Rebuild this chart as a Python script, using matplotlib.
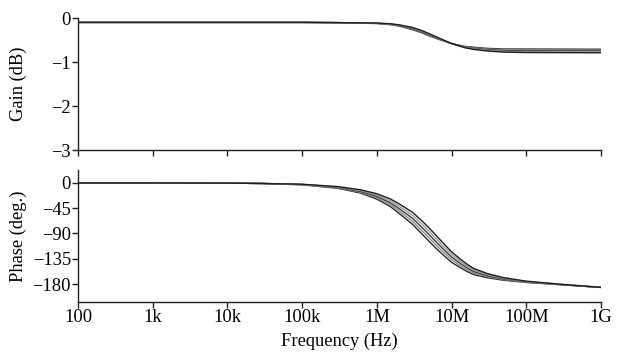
import matplotlib
matplotlib.use('Agg')
import matplotlib.pyplot as plt

plt.rcParams['font.family'] = ['Liberation Serif', 'DejaVu Serif']
plt.rcParams['font.size'] = 13.3

# gain curves (dB)
freq_gain = [1e2, 1e4, 1e5, 3e5, 1e6, 1.5e6, 2e6, 3e6, 4e6, 5e6, 7e6, 1e7,
             1.5e7, 2e7, 3e7, 5e7, 1e8, 1e9]
gain_a = [-0.10, -0.10, -0.10, -0.105, -0.125, -0.15, -0.185, -0.265, -0.335,
          -0.405, -0.495, -0.58, -0.645, -0.665, -0.69, -0.705, -0.705, -0.71]
gain_b = [-0.10, -0.10, -0.10, -0.105, -0.122, -0.145, -0.178, -0.252, -0.322,
          -0.392, -0.488, -0.58, -0.652, -0.678, -0.705, -0.722, -0.725, -0.73]
gain_c = [-0.10, -0.10, -0.10, -0.105, -0.12, -0.14, -0.17, -0.24, -0.31,
          -0.38, -0.48, -0.58, -0.66, -0.69, -0.72, -0.74, -0.745, -0.75]
gain_d = [-0.10, -0.10, -0.10, -0.105, -0.118, -0.135, -0.162, -0.228, -0.298,
          -0.368, -0.472, -0.58, -0.668, -0.702, -0.735, -0.758, -0.765, -0.77]
gain_e = [-0.10, -0.10, -0.10, -0.105, -0.115, -0.13, -0.155, -0.215, -0.285,
          -0.355, -0.465, -0.58, -0.675, -0.715, -0.75, -0.775, -0.785, -0.79]

# phase curves (deg)
freq_phase = [1e2, 1e3, 1e4, 3e4, 1e5, 3e5, 6e5, 1e6, 1.5e6, 2e6, 3e6, 4e6,
              5e6, 6e6, 7e6, 8.5e6, 1e7, 1.3e7, 1.6e7, 2e7, 3e7, 5e7, 1e8,
              3e8, 1e9]
phase_a = [0, 0, -0.3, -1, -3.3, -9.5, -17.9, -28.8, -41.8, -54.5, -73.7, -90.7,
           -103.9, -114.6, -123.1, -133.2, -141.3, -150.7, -157.6, -163.4,
           -168.7, -173.3, -177.1, -181.4, -186.1]
phase_b = [0, 0, -0.3, -1, -3.1, -8.7, -16.5, -26.4, -38.4, -50.2, -68.4, -84.9,
           -97.9, -108.8, -117.5, -128.1, -136.6, -146.9, -154.3, -160.7,
           -166.8, -172.1, -176.6, -181.2, -186.1]
phase_c = [0, 0, -0.3, -1, -2.8, -8, -15, -24, -35, -46, -63, -79,
           -92, -103, -112, -123, -132, -143, -151, -158,
           -165, -171, -176, -181, -186]
phase_d = [0, 0, -0.3, -1, -2.6, -7.3, -13.5, -21.6, -31.6, -41.8, -57.6, -73.1,
           -86.1, -97.2, -106.5, -117.9, -127.4, -139.1, -147.7, -155.3,
           -163.2, -169.9, -175.4, -180.8, -185.9]
phase_e = [0, 0, -0.3, -1, -2.3, -6.5, -12.1, -19.2, -28.2, -37.5, -52.3, -67.3,
           -80.1, -91.4, -100.9, -112.8, -122.7, -135.3, -144.4, -152.6,
           -161.3, -168.7, -174.9, -180.6, -185.9]

xticks = [1e2, 1e3, 1e4, 1e5, 1e6, 1e7, 1e8, 1e9]
xlabels = ['100', '1k', '10k', '100k', '1M', '10M', '100M', '1G']
colors = ['#2a2a2a', '#8c8c8c', '#3c3c3c', '#9a9a9a', '#1e1e1e']

fig = plt.figure(figsize=(6.23, 3.58), dpi=100)
ax1 = fig.add_axes([0.1252, 0.581, 0.8395, 0.3687])
ax2 = fig.add_axes([0.1252, 0.1564, 0.8395, 0.3687])

for g, c in zip([gain_a, gain_b, gain_c, gain_d, gain_e], colors):
    ax1.plot(freq_gain, g, color=c, lw=1.0)
for p, c in zip([phase_a, phase_b, phase_c, phase_d, phase_e], colors):
    ax2.plot(freq_phase, p, color=c, lw=1.0)

for ax in (ax1, ax2):
    ax.set_xscale('log')
    ax.set_xlim(1e2, 1e9)
    ax.set_xticks(xticks)
    ax.minorticks_off()
    ax.spines['top'].set_visible(False)
    ax.spines['right'].set_visible(False)
    for s in ('left', 'bottom'):
        ax.spines[s].set_linewidth(1.0)
        ax.spines[s].set_color('#222222')
    ax.tick_params(direction='out', length=4, width=1.0, color='#222222', pad=1)

ax1.set_xticklabels([])
ax1.set_ylim(-3, 0)
ax1.set_yticks([0, -1, -2, -3])
ax1.set_yticklabels(['0', '\u22121', '\u22122', '\u22123'])
ax1.set_ylabel('Gain (dB)')
ax1.yaxis.set_label_coords(-0.097, 0.5)

ax2.set_xticklabels(xlabels)
ax2.set_ylim(-212, 23)
ax2.set_yticks([0, -45, -90, -135, -180])
ax2.set_yticklabels(['0', '\u221245', '\u221290', '\u2212135', '\u2212180'])
ax2.set_ylabel('Phase (deg.)')
ax2.yaxis.set_label_coords(-0.097, 0.5)
ax2.set_xlabel('Frequency (Hz)', labelpad=5)

fig.savefig('out.png', dpi=100)
